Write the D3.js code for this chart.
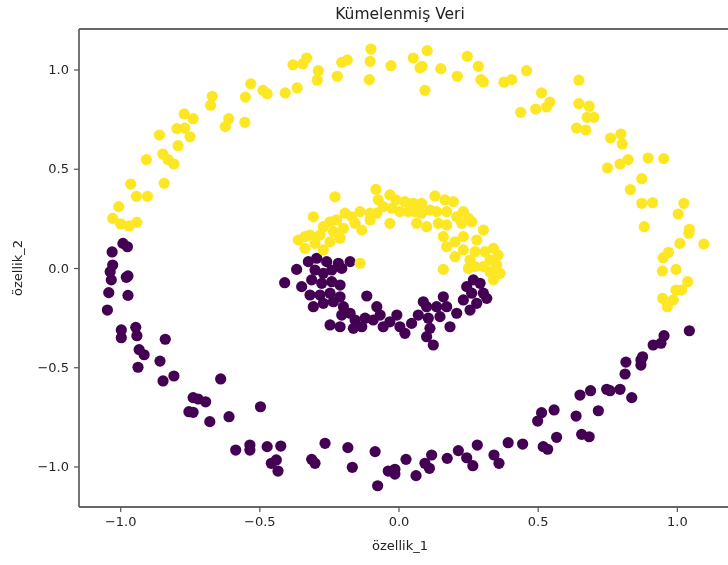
<!DOCTYPE html>
<html>
<head>
<meta charset="utf-8">
<script src="https://cdn.jsdelivr.net/npm/d3@7"></script>
<style>
  body { margin: 0; background: #fff; }
  svg { display: block; font-family: "DejaVu Sans", sans-serif; filter: blur(0.45px); }
</style>
</head>
<body>
<svg id="chart"></svg>
<script>
// cluster 0 (purple) and cluster 1 (yellow) as [x, y]
const outerPurple = [
  [-0.990, 0.124], [-0.974, 0.107], [-1.029, 0.081], [-1.027, 0.015], [-1.036, -0.019],
  [-1.032, -0.060], [-1.041, -0.124], [-1.046, -0.212], [-0.972, -0.040], [-0.978, -0.047],
  [-0.972, -0.138], [-0.996, -0.312], [-0.996, -0.351], [-0.944, -0.299], [-0.940, -0.341],
  [-0.838, -0.359], [-0.932, -0.411], [-0.914, -0.437], [-0.857, -0.469], [-0.936, -0.500],
  [-0.846, -0.569], [-0.807, -0.544], [-0.639, -0.559], [-0.738, -0.653], [-0.720, -0.660],
  [-0.693, -0.674], [-0.753, -0.724], [-0.738, -0.727], [-0.678, -0.774], [-0.609, -0.749],
  [-0.496, -0.699], [-0.585, -0.917], [-0.534, -0.892], [-0.534, -0.917], [-0.472, -0.900],
  [-0.423, -0.897], [-0.457, -0.984], [-0.439, -0.967], [-0.433, -1.023], [-0.312, -0.964],
  [-0.300, -0.984], [-0.264, -0.883], [-0.182, -0.905], [-0.166, -1.004], [-0.084, -0.925],
  [-0.075, -1.097], [-0.037, -1.023], [-0.013, -1.014], [-0.013, -1.038], [0.027, -0.964],
  [0.063, -1.046], [0.095, -0.984], [0.111, -1.009], [0.119, -0.942], [0.175, -0.959],
  [0.215, -0.920], [0.245, -0.956], [0.267, -0.996], [0.283, -0.892], [0.343, -0.942],
  [0.361, -0.984], [0.394, -0.880], [0.446, -0.887], [0.500, -0.771], [0.514, -0.729],
  [0.559, -0.715], [0.520, -0.900], [0.536, -0.913], [0.568, -0.853], [0.638, -0.746],
  [0.652, -0.640], [0.690, -0.618], [0.658, -0.838], [0.685, -0.850], [0.718, -0.719],
  [0.748, -0.611], [0.760, -0.618], [0.796, -0.611], [0.838, -0.653], [0.814, -0.534],
  [0.817, -0.474], [0.871, -0.489], [0.877, -0.447], [0.871, -0.463], [1.045, -0.316],
  [0.954, -0.341], [0.943, -0.379], [0.915, -0.388]
];

const innerPurple = [
  [-0.409, -0.074], [-0.366, -0.007], [-0.324, 0.032], [-0.294, 0.049], [-0.258, 0.032],
  [-0.216, 0.024], [-0.174, 0.032], [-0.300, -0.010], [-0.270, -0.027], [-0.240, -0.010],
  [-0.204, -0.002], [-0.348, -0.094], [-0.312, -0.060], [-0.276, -0.077], [-0.240, -0.069],
  [-0.210, -0.086], [-0.318, -0.136], [-0.282, -0.136], [-0.246, -0.127], [-0.210, -0.145],
  [-0.306, -0.195], [-0.270, -0.178], [-0.234, -0.170], [-0.198, -0.195], [-0.174, -0.228],
  [-0.204, -0.237], [-0.156, -0.262], [-0.246, -0.287], [-0.210, -0.296], [-0.162, -0.304],
  [-0.132, -0.296], [-0.120, -0.253], [-0.078, -0.195], [-0.114, -0.141], [-0.091, -0.262],
  [-0.066, -0.237], [-0.055, -0.296], [-0.031, -0.271], [-0.006, -0.237], [0.005, -0.296],
  [0.023, -0.329], [0.047, -0.279], [0.071, -0.237], [0.089, -0.170], [0.101, -0.195],
  [0.107, -0.253], [0.113, -0.304], [0.125, -0.388], [0.101, -0.346], [0.137, -0.195],
  [0.149, -0.245], [0.161, -0.145], [0.173, -0.195], [0.185, -0.296], [0.209, -0.228],
  [0.233, -0.161], [0.245, -0.094], [0.269, -0.060], [0.263, -0.127], [0.281, -0.178],
  [0.257, -0.212], [0.305, -0.127], [0.293, -0.077], [0.317, -0.153]
];

const outerYellow = [
  [-0.379, 1.024], [-0.344, 1.028], [-0.330, 1.058], [-0.531, 0.928], [-0.487, 0.895],
  [-0.472, 0.878], [-0.407, 0.882], [-0.364, 0.907], [-0.669, 0.865], [-0.675, 0.820],
  [-0.550, 0.861], [-0.610, 0.752], [-0.622, 0.712], [-0.552, 0.734], [-0.770, 0.776],
  [-0.738, 0.752], [-0.796, 0.702], [-0.768, 0.705], [-0.749, 0.661], [-0.859, 0.670],
  [-0.792, 0.616], [-0.847, 0.574], [-0.828, 0.546], [-0.807, 0.524], [-0.906, 0.546],
  [-0.962, 0.423], [-0.842, 0.427], [-0.942, 0.361], [-0.902, 0.361], [-1.005, 0.309],
  [-1.027, 0.250], [-0.998, 0.222], [-0.968, 0.212], [-0.940, 0.230], [-0.288, 0.994],
  [-0.292, 0.946], [-0.220, 0.966], [-0.204, 1.036], [-0.184, 1.048], [-0.099, 1.103],
  [-0.102, 1.041], [-0.105, 0.949], [-0.027, 1.019], [0.053, 1.058], [0.103, 1.095],
  [0.077, 1.008], [0.085, 1.016], [0.095, 0.895], [0.152, 1.004], [0.211, 0.966],
  [0.247, 1.066], [0.287, 1.016], [0.296, 0.949], [0.305, 0.937], [0.379, 0.936],
  [0.407, 0.949], [0.460, 0.994], [0.648, 0.946], [0.514, 0.882], [0.544, 0.836],
  [0.532, 0.811], [0.439, 0.784], [0.493, 0.801], [0.648, 0.828], [0.685, 0.815],
  [0.678, 0.759], [0.702, 0.759], [0.640, 0.705], [0.673, 0.695], [0.762, 0.655],
  [0.799, 0.675], [0.804, 0.625], [0.751, 0.504], [0.796, 0.524], [0.825, 0.546],
  [0.897, 0.554], [0.953, 0.551], [0.874, 0.450], [0.833, 0.395], [0.874, 0.326],
  [0.913, 0.329], [1.025, 0.326], [1.005, 0.272], [0.883, 0.208], [1.045, 0.195],
  [1.043, 0.175], [1.011, 0.124], [1.097, 0.121], [0.970, 0.079], [0.951, 0.052],
  [0.948, -0.015], [0.997, -0.007], [1.039, -0.069], [0.997, -0.111], [1.017, -0.111],
  [0.949, -0.153], [0.987, -0.161], [0.966, -0.195]
];

const innerYellow = [
  [-0.081, 0.396], [-0.228, 0.359], [-0.073, 0.343], [-0.031, 0.368], [-0.009, 0.343],
  [0.023, 0.334], [0.053, 0.326], [0.083, 0.326], [0.131, 0.363], [0.167, 0.343],
  [0.197, 0.334], [0.233, 0.284], [0.251, 0.250], [0.209, 0.258], [0.173, 0.284],
  [0.137, 0.284], [0.113, 0.292], [0.083, 0.276], [0.059, 0.284], [0.035, 0.284],
  [0.005, 0.284], [-0.024, 0.301], [-0.055, 0.309], [-0.078, 0.276], [-0.031, 0.225],
  [0.065, 0.225], [0.101, 0.208], [0.143, 0.225], [0.173, 0.217], [0.227, 0.225],
  [0.263, 0.233], [0.305, 0.191], [0.281, 0.141], [0.233, 0.158], [0.203, 0.132],
  [0.161, 0.158], [0.173, 0.107], [0.203, 0.057], [0.233, 0.091], [0.275, 0.082],
  [0.257, 0.040], [0.311, 0.082], [0.341, 0.099], [0.358, 0.065], [0.329, 0.040],
  [0.353, 0.015], [0.305, 0.007], [0.275, 0.007], [0.251, -0.002], [0.329, -0.019],
  [0.365, -0.027], [0.341, -0.060], [0.161, -0.007], [-0.138, 0.024], [-0.102, 0.276],
  [-0.138, 0.284], [-0.168, 0.258], [-0.192, 0.276], [-0.222, 0.242], [-0.246, 0.233],
  [-0.270, 0.208], [-0.306, 0.258], [-0.282, 0.166], [-0.318, 0.166], [-0.336, 0.158],
  [-0.360, 0.141], [-0.336, 0.099], [-0.300, 0.124], [-0.270, 0.091], [-0.246, 0.132],
  [-0.210, 0.150], [-0.198, 0.200], [-0.156, 0.225], [-0.132, 0.191], [-0.102, 0.242],
  [-0.234, 0.183]
];

const tickValues = [-1.0, -0.5, 0.0, 0.5, 1.0];
const xDomain = [-1.148, 1.209];
const yDomain = [-1.204, 1.204];

const width = 728, height = 565;
const margin = { top: 29, right: -7, bottom: 58, left: 79 };

const svg = d3.select("#chart").attr("width", width).attr("height", height);

const x = d3.scaleLinear().domain(xDomain).range([margin.left, width - margin.right]);
const y = d3.scaleLinear().domain(yDomain).range([height - margin.bottom, margin.top]);

const points = [
  ...outerPurple.map(d => ({ x: d[0], y: d[1], c: 0 })),
  ...innerPurple.map(d => ({ x: d[0], y: d[1], c: 0 })),
  ...outerYellow.map(d => ({ x: d[0], y: d[1], c: 1 })),
  ...innerYellow.map(d => ({ x: d[0], y: d[1], c: 1 }))
];
const color = c => c === 0 ? "#440154" : "#fde725";

svg.append("g")
  .selectAll("circle")
  .data(points)
  .join("circle")
  .attr("cx", d => x(d.x))
  .attr("cy", d => y(d.y))
  .attr("r", 5.6)
  .attr("fill", d => color(d.c));

// frame
const spine = svg.append("g").attr("stroke", "#666").attr("stroke-width", 1.8).attr("fill", "none");
spine.append("line").attr("x1", x.range()[0]).attr("x2", width).attr("y1", y.range()[1]).attr("y2", y.range()[1]);
spine.append("line").attr("x1", x.range()[0]).attr("x2", width).attr("y1", y.range()[0]).attr("y2", y.range()[0]);
spine.append("line").attr("x1", x.range()[0]).attr("x2", x.range()[0]).attr("y1", y.range()[1]).attr("y2", y.range()[0]);

const fmt = d3.format(".1f");

const xAxis = svg.append("g")
  .attr("transform", `translate(0, ${y.range()[0]})`)
  .call(d3.axisBottom(x).tickValues(tickValues).tickFormat(fmt).tickSize(5).tickPadding(5));
const yAxis = svg.append("g")
  .attr("transform", `translate(${x.range()[0]}, 0)`)
  .call(d3.axisLeft(y).tickValues(tickValues).tickFormat(fmt).tickSize(5).tickPadding(5));

[xAxis, yAxis].forEach(a => {
  a.select(".domain").remove();
  a.selectAll(".tick line").attr("stroke", "#555").attr("stroke-width", 1.2);
  a.selectAll(".tick text")
    .attr("fill", "#262626")
    .style("font-family", "DejaVu Sans, sans-serif")
    .style("font-size", "13px");
});

svg.append("text")
  .attr("x", 400)
  .attr("y", 19)
  .attr("text-anchor", "middle")
  .style("font-size", "15.5px")
  .attr("fill", "#222")
  .text("Kümelenmiş Veri");

svg.append("text")
  .attr("x", 400)
  .attr("y", 550)
  .attr("text-anchor", "middle")
  .style("font-size", "13px")
  .attr("fill", "#222")
  .text("özellik_1");

svg.append("text")
  .attr("transform", `translate(22, ${y(0)}) rotate(-90)`)
  .attr("text-anchor", "middle")
  .style("font-size", "13px")
  .attr("fill", "#222")
  .text("özellik_2");
</script>
</body>
</html>
